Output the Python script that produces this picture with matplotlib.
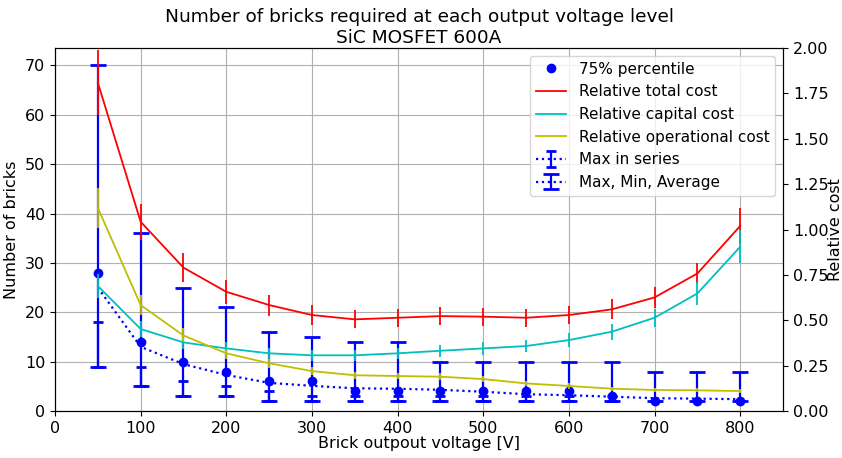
import numpy as np
import matplotlib
matplotlib.use("Agg")
import matplotlib.pyplot as plt
from matplotlib.lines import Line2D
from matplotlib.container import ErrorbarContainer

voltage = [50, 100, 150, 200, 250, 300, 350, 400, 450, 500, 550, 600, 650, 700, 750, 800]
pct75 = [28, 14, 10, 8, 6, 6, 4, 4, 4, 4, 4, 4, 3, 2, 2, 2]
average = [25, 13, 9.5, 7.3, 5.7, 5.1, 4.6, 4.5, 4.3, 3.9, 3.4, 3.2, 2.9, 2.6, 2.5, 2.4]
maximum = [70, 36, 25, 21, 16, 15, 14, 14, 10, 10, 10, 10, 10, 8, 8, 8]
minimum = [9, 5, 3, 3, 2, 2, 2, 2, 2, 2, 2, 2, 2, 2, 2, 2]
max_in_series = [18, 9, 6, 5, 4, 3, 3, 3, 3, 3, 3, 3, 3, 2, 2, 2]

total_cost = [1.81, 1.043, 0.79, 0.657, 0.584, 0.529, 0.505, 0.514, 0.523, 0.520, 0.514, 0.529, 0.56, 0.626, 0.758, 1.02]
total_err = [0.18, 0.10, 0.08, 0.065, 0.058, 0.053, 0.05, 0.05, 0.05, 0.05, 0.05, 0.05, 0.055, 0.06, 0.06, 0.10]
capital_cost = [0.689, 0.452, 0.378, 0.345, 0.318, 0.307, 0.307, 0.318, 0.332, 0.345, 0.358, 0.391, 0.437, 0.514, 0.648, 0.905]
capital_err = [0.065, 0.045, 0.038, 0.034, 0.031, 0.03, 0.03, 0.03, 0.032, 0.034, 0.035, 0.038, 0.044, 0.05, 0.063, 0.09]
operational_cost = [1.12, 0.584, 0.416, 0.318, 0.263, 0.22, 0.197, 0.193, 0.189, 0.176, 0.152, 0.138, 0.123, 0.116, 0.114, 0.110]
operational_err = [0.11, 0.055, 0.042, 0.032, 0.026, 0.022, 0.02, 0.019, 0.019, 0.018, 0.015, 0.014, 0.012, 0.012, 0.011, 0.011]

x = np.array(voltage, dtype=float)
avg = np.array(average, dtype=float)
mx = np.array(maximum, dtype=float)
mn = np.array(minimum, dtype=float)
ms = np.array(max_in_series, dtype=float)

fig = plt.figure(figsize=(8.42, 4.58), dpi=100)
ax = fig.add_axes([0.0653, 0.1026, 0.8647, 0.7924])

blue = (0, 0, 1)
red = (1, 0, 0)
cyan = (0, 0.75, 0.75)
yellow = (0.75, 0.75, 0)

ax.grid(True, color='#b0b0b0', linewidth=0.8)
ax.set_axisbelow(True)

# small caps: range between minimum and max in series
eb_small = ax.errorbar(x, (mn + ms) / 2, yerr=(ms - mn) / 2, fmt='none', ecolor=blue,
                       elinewidth=1.6, capsize=3.6, capthick=2)
# big caps: max/min around average
eb_big = ax.errorbar(x, avg, yerr=[avg - mn, mx - avg], fmt=':', color=blue, lw=1.6,
                     elinewidth=1.6, capsize=6, capthick=2, label='Max, Min, Average')
dots, = ax.plot(x, pct75, 'o', color=blue, markersize=6, label='75% percentile')

ax.set_xlim(0, 850)
ax.set_ylim(0, 73.5)
ax.set_xticks(np.arange(0, 801, 100))
ax.set_yticks(np.arange(0, 71, 10))
ax.set_xlabel('Brick outpout voltage [V]', fontsize=11.5, labelpad=0)
ax.set_ylabel('Number of bricks', fontsize=11.5, labelpad=4)
ax.tick_params(labelsize=11.5)

ax2 = ax.twinx()
eb_t = ax2.errorbar(x, total_cost, yerr=total_err, color=red, lw=1.3, elinewidth=1.3, label='Relative total cost')
eb_c = ax2.errorbar(x, capital_cost, yerr=capital_err, color=cyan, lw=1.3, elinewidth=1.3, label='Relative capital cost')
eb_o = ax2.errorbar(x, operational_cost, yerr=operational_err, color=yellow, lw=1.3, elinewidth=1.3, label='Relative operational cost')
ax2.set_ylim(0, 2.0)
ax2.set_yticks(np.arange(0, 2.01, 0.25))
ax2.set_yticklabels(['%.2f' % v for v in np.arange(0, 2.01, 0.25)])
ax2.set_ylabel('Relative cost', fontsize=11.5, labelpad=0)
ax2.tick_params(labelsize=11.5)

small_proxy = ErrorbarContainer((Line2D([], [], ls=':', color=blue, lw=1.6),
                                 eb_small.lines[1], eb_small.lines[2]),
                                has_xerr=False, has_yerr=True, label='Max in series')
handles = [dots,
           Line2D([], [], color=red, lw=1.3),
           Line2D([], [], color=cyan, lw=1.3),
           Line2D([], [], color=yellow, lw=1.3),
           small_proxy, eb_big]
labels = ['75% percentile', 'Relative total cost', 'Relative capital cost',
          'Relative operational cost', 'Max in series', 'Max, Min, Average']
ax2.legend(handles, labels, loc='upper right', fontsize=11, framealpha=0.8)

ax.set_title('Number of bricks required at each output voltage level\nSiC MOSFET 600A',
             fontsize=13.3, pad=4)

fig.savefig('out.png', dpi=100)
